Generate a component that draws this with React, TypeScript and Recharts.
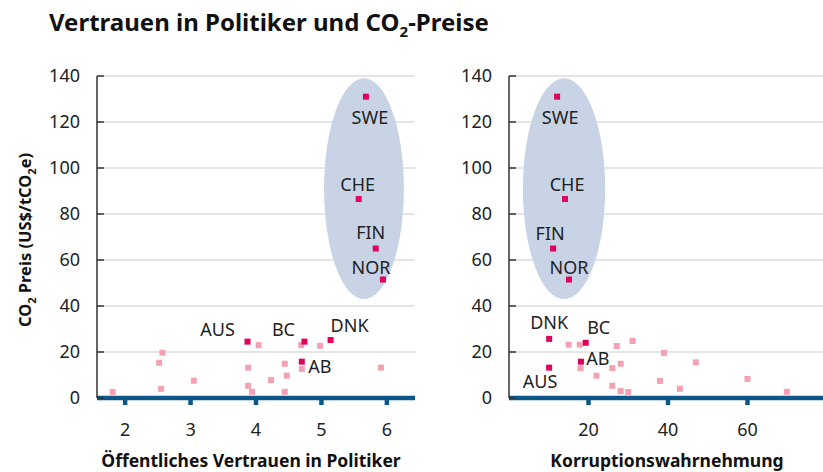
import React from 'react';
import { ScatterChart, Scatter, XAxis, YAxis, CartesianGrid, ReferenceArea } from 'recharts';

const FONT = '"Noto Sans", "Open Sans", sans-serif';

// ---- shared ----
const yTicks = [0, 20, 40, 60, 80, 100, 120, 140];
const highlightNames = ['SWE', 'CHE', 'FIN', 'NOR', 'AUS', 'BC', 'DNK', 'AB'];

// ---- left panel: trust in politicians ----
const trustTicks = [2, 3, 4, 5, 6];
const trustHighlightX = [5.68, 5.57, 5.83, 5.94, 3.87, 4.74, 5.14, 4.7];
const trustHighlightY = [131, 86.5, 65, 51.5, 24.5, 24.5, 25.2, 15.8];
const trustOtherX = [1.81, 2.57, 2.52, 2.55, 3.05, 3.88, 3.88, 3.94, 4.04, 4.23, 4.44, 4.47, 4.44, 4.69, 4.7, 4.98, 5.91];
const trustOtherY = [2.6, 19.7, 15.3, 4.0, 7.5, 13.2, 5.3, 2.7, 23.0, 7.8, 14.9, 9.7, 2.7, 23.0, 12.6, 22.7, 13.2];
const trustEllipseX = [5.04, 6.26];
const trustEllipseY = [43, 139];

// ---- right panel: corruption perception ----
const corrTicks = [20, 40, 60];
const corrHighlightX = [12.1, 14.1, 11.1, 15.1, 10.1, 19.3, 10.1, 18.1];
const corrHighlightY = [131, 86.5, 65, 51.5, 13.2, 24.0, 25.7, 15.8];
const corrOtherX = [15.0, 17.8, 18.0, 22.0, 26.0, 28.1, 27.1, 31.1, 26.0, 28.1, 30.0, 39.0, 38.0, 43.0, 47.0, 60.0, 69.9];
const corrOtherY = [23.2, 23.2, 12.9, 9.7, 13.0, 14.9, 22.6, 24.8, 5.3, 3.0, 2.6, 19.6, 7.4, 4.0, 15.5, 8.3, 2.7];
const corrEllipseX = [3.5, 24.2];
const corrEllipseY = [43, 139];

// label placement (pixel offsets of label centre from its marker)
const trustLabelOffsets: Record<string, [number, number]> = {
  SWE: [4, 21], CHE: [-1, -15], FIN: [-5, -16], NOR: [-12, -12],
  AUS: [-30, -12], BC: [-21, -12], DNK: [19, -15], AB: [18, 5],
};
const corrLabelOffsets: Record<string, [number, number]> = {
  SWE: [3, 21], CHE: [2, -15], FIN: [-3, -15], NOR: [0, -12],
  AUS: [-9, 14], BC: [13, -15], DNK: [0, -16], AB: [17, -3],
};

const DARK = '#e2005c';
const LIGHT = '#f4a2b2';
const ELLIPSE = '#c8d3e6';
const AXIS_BLUE = '#0c5688';
const TEXT = '#222';

const zip = (xs: number[], ys: number[], names?: string[]) =>
  xs.map((x, i) => ({ x, y: ys[i], name: names ? names[i] : '' }));

const square = (fill: string) => (p: any) => (
  <rect x={p.cx - 3} y={p.cy - 3} width={6} height={6} fill={fill} />
);

const labelled = (offsets: Record<string, [number, number]>) => (p: any) => {
  const name = p.payload?.name ?? '';
  const off = offsets[name] || [0, 0];
  return (
    <g>
      <rect x={p.cx - 3} y={p.cy - 3} width={6} height={6} fill={DARK} />
      <text
        x={p.cx + off[0]}
        y={p.cy + off[1]}
        dy="0.36em"
        textAnchor="middle"
        fontFamily={FONT}
        fontSize={18}
        fill={TEXT}
      >
        {name}
      </text>
    </g>
  );
};

const ellipseShape = (p: any) => (
  <ellipse
    cx={p.x + p.width / 2}
    cy={p.y + p.height / 2}
    rx={p.width / 2}
    ry={p.height / 2}
    fill={ELLIPSE}
    stroke="none"
  />
);

type PanelProps = {
  left: number;
  width: number;
  marginLeft: number;
  marginRight: number;
  domain: [number, number];
  ticks: number[];
  highlight: { x: number; y: number; name: string }[];
  other: { x: number; y: number; name: string }[];
  ellipseX: number[];
  ellipseY: number[];
  offsets: Record<string, [number, number]>;
};

const Panel = (props: PanelProps) => (
  <div style={{ position: 'absolute', left: props.left, top: 0 }}>
    <ScatterChart
      width={props.width}
      height={472}
      margin={{ top: 76, right: props.marginRight, bottom: 44, left: props.marginLeft }}
    >
      <CartesianGrid vertical={false} stroke="#dcdcdc" strokeWidth={1.5} />
      <ReferenceArea
        x1={props.ellipseX[0]}
        x2={props.ellipseX[1]}
        y1={props.ellipseY[0]}
        y2={props.ellipseY[1]}
        shape={ellipseShape}
        ifOverflow="visible"
      />
      <XAxis
        type="number"
        dataKey="x"
        domain={props.domain}
        ticks={props.ticks}
        allowDataOverflow
        height={30}
        axisLine={{ stroke: AXIS_BLUE, strokeWidth: 4.5 }}
        tickLine={{ stroke: AXIS_BLUE, strokeWidth: 4.5 }}
        tickSize={7}
        tickMargin={18}
        tick={{ fontSize: 18, fill: TEXT, fontFamily: FONT }}
      />
      <YAxis
        type="number"
        dataKey="y"
        domain={[0, 140]}
        ticks={yTicks}
        allowDataOverflow
        width={57}
        axisLine={{ stroke: '#333', strokeWidth: 1.5 }}
        tickLine={{ stroke: '#333', strokeWidth: 1.5 }}
        tickSize={-7}
        tickMargin={24}
        tick={{ fontSize: 18, fill: TEXT, fontFamily: FONT }}
      />
      <Scatter data={props.other} shape={square(LIGHT)} isAnimationActive={false} />
      <Scatter data={props.highlight} shape={labelled(props.offsets)} isAnimationActive={false} />
    </ScatterChart>
  </div>
);

export default function App() {
  return (
    <div style={{ position: 'absolute', left: 0, top: 0, width: 823, height: 472, background: '#fff', overflow: 'hidden' }}>
      <Panel
        left={0}
        width={430}
        marginLeft={40}
        marginRight={15}
        domain={[1.57, 6.43]}
        ticks={trustTicks}
        highlight={zip(trustHighlightX, trustHighlightY, highlightNames)}
        other={zip(trustOtherX, trustOtherY)}
        ellipseX={trustEllipseX}
        ellipseY={trustEllipseY}
        offsets={trustLabelOffsets}
      />
      <Panel
        left={430}
        width={393}
        marginLeft={22}
        marginRight={0}
        domain={[0, 79]}
        ticks={corrTicks}
        highlight={zip(corrHighlightX, corrHighlightY, highlightNames)}
        other={zip(corrOtherX, corrOtherY)}
        ellipseX={corrEllipseX}
        ellipseY={corrEllipseY}
        offsets={corrLabelOffsets}
      />
      <svg
        width={823}
        height={472}
        style={{ position: 'absolute', left: 0, top: 0, pointerEvents: 'none' }}
      >
        <text x={49} y={31} fontFamily={FONT} fontSize={24} fontWeight={700} fill="#111">
          Vertrauen in Politiker und CO
          <tspan fontSize={15} dy={6}>2</tspan>
          <tspan dy={-6}>-Preise</tspan>
        </text>
        <text
          transform="translate(31,240) rotate(-90)"
          textAnchor="middle"
          fontFamily={FONT}
          fontSize={16.5}
          fontWeight={700}
          fill="#111"
        >
          CO<tspan fontSize={11} dy={5}>2</tspan>
          <tspan dy={-5}> Preis (US$/tCO</tspan>
          <tspan fontSize={11} dy={5}>2</tspan>
          <tspan dy={-5}>e)</tspan>
        </text>
        <text x={251} y={467} textAnchor="middle" fontFamily={FONT} fontSize={17.5} fontWeight={700} fill="#111">
          Öffentliches Vertrauen in Politiker
        </text>
        <text x={667} y={467} textAnchor="middle" fontFamily={FONT} fontSize={17.5} fontWeight={700} fill="#111">
          Korruptionswahrnehmung
        </text>
      </svg>
    </div>
  );
}
